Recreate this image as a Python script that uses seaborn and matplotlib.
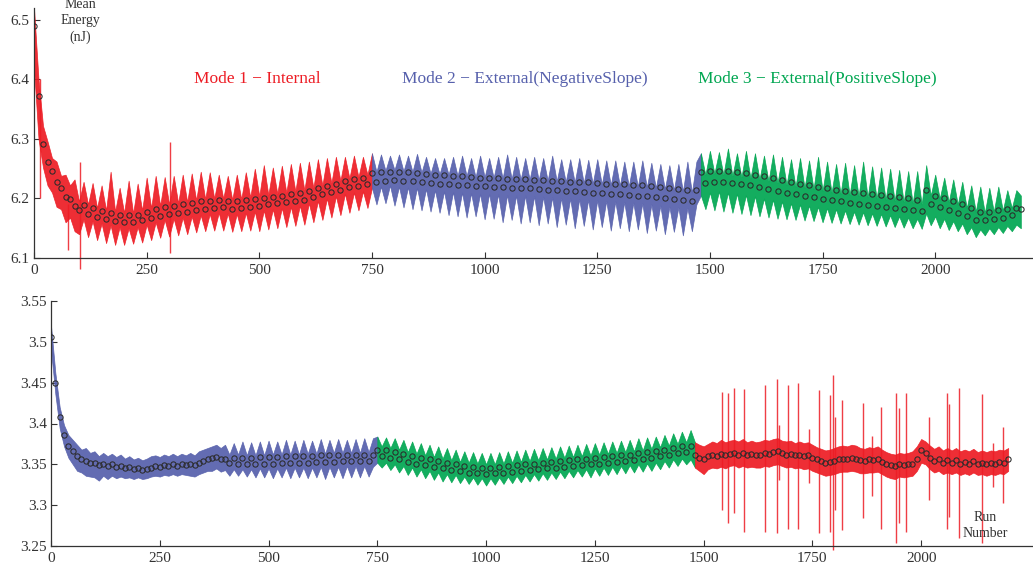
import numpy as np
import matplotlib
matplotlib.use("Agg")
import matplotlib.pyplot as plt
from matplotlib.ticker import FormatStrFormatter
import seaborn as sns

# ---------------------------------------------------------------- data
RUN_STEP = 10

# upper panel: mean energy per run (sampled every RUN_STEP runs) and its spread
top_mean = [
    6.490, 6.372, 6.292, 6.262, 6.247, 6.228, 6.218, 6.203, 6.199, 6.188,
    6.180, 6.189, 6.174, 6.184, 6.169, 6.179, 6.165, 6.176, 6.162, 6.173,
    6.160, 6.172, 6.160, 6.173, 6.163, 6.178, 6.167, 6.182, 6.171, 6.186,
    6.174, 6.188, 6.176, 6.190, 6.178, 6.192, 6.181, 6.195, 6.183, 6.196,
    6.184, 6.197, 6.185, 6.196, 6.183, 6.195, 6.184, 6.197, 6.186, 6.199,
    6.188, 6.201, 6.190, 6.203, 6.192, 6.205, 6.194, 6.207, 6.196, 6.209,
    6.198, 6.213, 6.203, 6.217, 6.207, 6.221, 6.211, 6.225, 6.215, 6.229,
    6.219, 6.232, 6.221, 6.234, 6.224, 6.242, 6.228, 6.244, 6.230, 6.245,
    6.231, 6.245, 6.230, 6.244, 6.229, 6.243, 6.228, 6.241, 6.226, 6.240,
    6.225, 6.239, 6.224, 6.238, 6.223, 6.237, 6.222, 6.236, 6.221, 6.235,
    6.221, 6.234, 6.220, 6.234, 6.219, 6.233, 6.218, 6.232, 6.218, 6.232,
    6.217, 6.231, 6.216, 6.231, 6.215, 6.230, 6.214, 6.229, 6.213, 6.228,
    6.212, 6.228, 6.211, 6.227, 6.210, 6.226, 6.209, 6.225, 6.208, 6.225,
    6.207, 6.224, 6.206, 6.223, 6.205, 6.222, 6.204, 6.221, 6.203, 6.219,
    6.201, 6.217, 6.199, 6.216, 6.197, 6.215, 6.196, 6.214, 6.244, 6.226,
    6.246, 6.228, 6.247, 6.228, 6.246, 6.226, 6.244, 6.224, 6.242, 6.222,
    6.240, 6.219, 6.237, 6.216, 6.234, 6.213, 6.231, 6.210, 6.228, 6.207,
    6.225, 6.204, 6.222, 6.202, 6.220, 6.199, 6.217, 6.197, 6.215, 6.195,
    6.213, 6.193, 6.211, 6.191, 6.210, 6.189, 6.208, 6.187, 6.206, 6.186,
    6.204, 6.184, 6.202, 6.182, 6.200, 6.180, 6.198, 6.179, 6.214, 6.190,
    6.205, 6.186, 6.200, 6.180, 6.195, 6.176, 6.190, 6.170, 6.184, 6.164,
    6.178, 6.164, 6.178, 6.166, 6.180, 6.168, 6.182, 6.172, 6.184, 6.182,
]
top_high = [
    6.520, 6.400, 6.322, 6.296, 6.268, 6.262, 6.238, 6.240, 6.222, 6.232,
    6.195, 6.228, 6.190, 6.226, 6.184, 6.222, 6.180, 6.245, 6.178, 6.218,
    6.176, 6.230, 6.175, 6.225, 6.180, 6.235, 6.184, 6.238, 6.188, 6.236,
    6.190, 6.238, 6.192, 6.240, 6.194, 6.242, 6.197, 6.245, 6.199, 6.244,
    6.200, 6.240, 6.200, 6.238, 6.198, 6.240, 6.199, 6.244, 6.202, 6.250,
    6.204, 6.256, 6.206, 6.252, 6.208, 6.255, 6.210, 6.258, 6.212, 6.260,
    6.214, 6.262, 6.218, 6.266, 6.222, 6.268, 6.226, 6.270, 6.230, 6.270,
    6.234, 6.272, 6.236, 6.270, 6.240, 6.276, 6.245, 6.274, 6.247, 6.272,
    6.248, 6.274, 6.246, 6.272, 6.245, 6.275, 6.244, 6.270, 6.242, 6.268,
    6.241, 6.268, 6.240, 6.270, 6.238, 6.272, 6.238, 6.268, 6.236, 6.272,
    6.236, 6.268, 6.235, 6.270, 6.234, 6.274, 6.233, 6.270, 6.232, 6.268,
    6.232, 6.270, 6.231, 6.268, 6.230, 6.272, 6.229, 6.266, 6.228, 6.266,
    6.227, 6.268, 6.226, 6.265, 6.225, 6.266, 6.224, 6.264, 6.223, 6.264,
    6.222, 6.262, 6.221, 6.262, 6.220, 6.264, 6.219, 6.260, 6.218, 6.258,
    6.216, 6.256, 6.214, 6.258, 6.212, 6.262, 6.210, 6.262, 6.276, 6.240,
    6.280, 6.242, 6.278, 6.240, 6.284, 6.238, 6.276, 6.236, 6.280, 6.234,
    6.276, 6.232, 6.272, 6.229, 6.274, 6.226, 6.270, 6.223, 6.266, 6.220,
    6.268, 6.218, 6.264, 6.216, 6.270, 6.213, 6.262, 6.210, 6.258, 6.208,
    6.260, 6.206, 6.256, 6.204, 6.262, 6.202, 6.254, 6.200, 6.252, 6.198,
    6.250, 6.196, 6.248, 6.194, 6.246, 6.192, 6.246, 6.190, 6.256, 6.205,
    6.240, 6.200, 6.235, 6.194, 6.232, 6.190, 6.228, 6.184, 6.222, 6.178,
    6.220, 6.176, 6.218, 6.178, 6.220, 6.180, 6.214, 6.184, 6.214, 6.205,
]
top_low = [
    6.420, 6.300, 6.252, 6.222, 6.210, 6.186, 6.182, 6.160, 6.168, 6.145,
    6.140, 6.165, 6.135, 6.162, 6.130, 6.158, 6.125, 6.155, 6.122, 6.152,
    6.122, 6.150, 6.124, 6.152, 6.126, 6.156, 6.130, 6.160, 6.134, 6.164,
    6.136, 6.166, 6.138, 6.168, 6.140, 6.170, 6.143, 6.172, 6.145, 6.174,
    6.146, 6.176, 6.146, 6.175, 6.144, 6.174, 6.145, 6.176, 6.146, 6.178,
    6.145, 6.180, 6.148, 6.182, 6.150, 6.184, 6.152, 6.186, 6.154, 6.188,
    6.156, 6.192, 6.160, 6.196, 6.164, 6.200, 6.168, 6.204, 6.172, 6.208,
    6.176, 6.210, 6.180, 6.212, 6.184, 6.218, 6.190, 6.220, 6.192, 6.222,
    6.188, 6.220, 6.185, 6.219, 6.182, 6.218, 6.180, 6.216, 6.178, 6.214,
    6.176, 6.212, 6.172, 6.211, 6.170, 6.210, 6.168, 6.209, 6.170, 6.208,
    6.165, 6.208, 6.166, 6.207, 6.160, 6.206, 6.164, 6.205, 6.158, 6.205,
    6.160, 6.204, 6.155, 6.203, 6.158, 6.202, 6.152, 6.201, 6.156, 6.200,
    6.150, 6.199, 6.154, 6.198, 6.148, 6.197, 6.152, 6.196, 6.146, 6.195,
    6.150, 6.194, 6.145, 6.193, 6.148, 6.192, 6.142, 6.190, 6.146, 6.188,
    6.140, 6.186, 6.144, 6.185, 6.138, 6.184, 6.145, 6.190, 6.205, 6.182,
    6.210, 6.180, 6.212, 6.178, 6.210, 6.176, 6.208, 6.174, 6.206, 6.172,
    6.204, 6.170, 6.200, 6.168, 6.198, 6.166, 6.195, 6.165, 6.192, 6.164,
    6.190, 6.163, 6.188, 6.162, 6.186, 6.160, 6.184, 6.159, 6.182, 6.158,
    6.180, 6.157, 6.178, 6.156, 6.177, 6.155, 6.175, 6.154, 6.174, 6.153,
    6.172, 6.152, 6.170, 6.151, 6.168, 6.150, 6.166, 6.149, 6.175, 6.155,
    6.170, 6.150, 6.166, 6.147, 6.162, 6.145, 6.158, 6.140, 6.152, 6.135,
    6.148, 6.138, 6.150, 6.140, 6.152, 6.142, 6.154, 6.145, 6.156, 6.150,
]
# single-run outliers in the upper panel: run, low, high
top_spike_runs = [13, 76, 102, 302]
top_spike_low = [6.200, 6.113, 6.082, 6.108]
top_spike_high = [6.400, 6.190, 6.262, 6.295]

# lower panel
bot_mean = [
    3.506, 3.450, 3.408, 3.386, 3.373, 3.366, 3.360, 3.357, 3.354, 3.352,
    3.352, 3.349, 3.351, 3.348, 3.350, 3.347, 3.348, 3.345, 3.347, 3.344,
    3.345, 3.343, 3.344, 3.346, 3.348, 3.347, 3.349, 3.348, 3.350, 3.348,
    3.350, 3.349, 3.351, 3.349, 3.352, 3.354, 3.356, 3.358, 3.359, 3.356,
    3.357, 3.352, 3.358, 3.351, 3.358, 3.351, 3.358, 3.351, 3.359, 3.351,
    3.359, 3.351, 3.359, 3.352, 3.360, 3.352, 3.360, 3.352, 3.360, 3.352,
    3.360, 3.353, 3.361, 3.353, 3.361, 3.353, 3.361, 3.354, 3.362, 3.354,
    3.362, 3.354, 3.362, 3.354, 3.362, 3.368, 3.360, 3.367, 3.358, 3.365,
    3.356, 3.363, 3.353, 3.360, 3.351, 3.358, 3.349, 3.356, 3.347, 3.354,
    3.345, 3.352, 3.343, 3.350, 3.342, 3.348, 3.340, 3.347, 3.339, 3.346,
    3.338, 3.346, 3.339, 3.347, 3.340, 3.348, 3.341, 3.349, 3.342, 3.350,
    3.343, 3.351, 3.344, 3.352, 3.345, 3.353, 3.346, 3.354, 3.347, 3.355,
    3.348, 3.356, 3.349, 3.357, 3.350, 3.358, 3.351, 3.359, 3.352, 3.360,
    3.353, 3.361, 3.354, 3.362, 3.355, 3.364, 3.356, 3.365, 3.358, 3.366,
    3.360, 3.368, 3.362, 3.370, 3.364, 3.372, 3.365, 3.372, 3.362, 3.358,
    3.357, 3.360, 3.362, 3.360, 3.363, 3.361, 3.363, 3.364, 3.362, 3.364,
    3.362, 3.363, 3.361, 3.362, 3.364, 3.363, 3.365, 3.366, 3.364, 3.362,
    3.363, 3.361, 3.362, 3.360, 3.361, 3.358, 3.356, 3.354, 3.352, 3.353,
    3.354, 3.356, 3.357, 3.356, 3.358, 3.357, 3.355, 3.354, 3.356, 3.355,
    3.356, 3.353, 3.351, 3.349, 3.348, 3.350, 3.349, 3.350, 3.351, 3.356,
    3.367, 3.364, 3.358, 3.354, 3.357, 3.352, 3.355, 3.352, 3.355, 3.351,
    3.353, 3.351, 3.354, 3.351, 3.352, 3.350, 3.352, 3.351, 3.353, 3.352,
    3.356,
]
bot_high = [
    3.520, 3.462, 3.420, 3.398, 3.386, 3.380, 3.374, 3.368, 3.370, 3.364,
    3.366, 3.360, 3.364, 3.360, 3.363, 3.359, 3.362, 3.357, 3.360, 3.356,
    3.358, 3.355, 3.357, 3.360, 3.361, 3.359, 3.362, 3.360, 3.363, 3.360,
    3.363, 3.361, 3.364, 3.361, 3.366, 3.368, 3.370, 3.372, 3.374, 3.370,
    3.374, 3.362, 3.376, 3.362, 3.378, 3.361, 3.377, 3.361, 3.378, 3.361,
    3.379, 3.362, 3.378, 3.362, 3.380, 3.362, 3.379, 3.362, 3.380, 3.363,
    3.379, 3.363, 3.381, 3.363, 3.380, 3.364, 3.381, 3.364, 3.380, 3.364,
    3.381, 3.364, 3.382, 3.365, 3.382, 3.384, 3.372, 3.383, 3.370, 3.382,
    3.368, 3.380, 3.365, 3.378, 3.363, 3.376, 3.361, 3.374, 3.359, 3.372,
    3.357, 3.370, 3.355, 3.368, 3.353, 3.366, 3.352, 3.365, 3.351, 3.364,
    3.350, 3.364, 3.350, 3.365, 3.351, 3.366, 3.352, 3.367, 3.353, 3.368,
    3.354, 3.369, 3.355, 3.370, 3.356, 3.371, 3.357, 3.372, 3.358, 3.373,
    3.359, 3.374, 3.360, 3.375, 3.361, 3.376, 3.362, 3.377, 3.363, 3.378,
    3.364, 3.379, 3.365, 3.380, 3.366, 3.382, 3.367, 3.383, 3.369, 3.384,
    3.371, 3.386, 3.373, 3.388, 3.375, 3.390, 3.377, 3.392, 3.377, 3.374,
    3.372, 3.375, 3.378, 3.376, 3.380, 3.377, 3.379, 3.380, 3.378, 3.381,
    3.377, 3.379, 3.377, 3.378, 3.380, 3.379, 3.381, 3.382, 3.379, 3.378,
    3.379, 3.376, 3.378, 3.376, 3.377, 3.374, 3.371, 3.369, 3.367, 3.368,
    3.370, 3.372, 3.373, 3.372, 3.374, 3.373, 3.370, 3.369, 3.371, 3.370,
    3.372, 3.368, 3.365, 3.363, 3.362, 3.364, 3.363, 3.364, 3.366, 3.372,
    3.381, 3.378, 3.373, 3.369, 3.372, 3.367, 3.370, 3.367, 3.370, 3.366,
    3.368, 3.366, 3.369, 3.365, 3.367, 3.365, 3.367, 3.366, 3.368, 3.367,
    3.370,
]
bot_low = [
    3.490, 3.436, 3.394, 3.372, 3.358, 3.350, 3.342, 3.340, 3.336, 3.335,
    3.334, 3.330, 3.336, 3.332, 3.336, 3.333, 3.335, 3.333, 3.334, 3.332,
    3.334, 3.332, 3.333, 3.335, 3.336, 3.335, 3.337, 3.336, 3.338, 3.336,
    3.338, 3.337, 3.336, 3.335, 3.338, 3.340, 3.342, 3.342, 3.345, 3.341,
    3.343, 3.336, 3.344, 3.336, 3.344, 3.335, 3.344, 3.334, 3.345, 3.334,
    3.345, 3.333, 3.345, 3.334, 3.346, 3.333, 3.346, 3.334, 3.346, 3.333,
    3.346, 3.334, 3.347, 3.332, 3.347, 3.334, 3.347, 3.333, 3.348, 3.334,
    3.348, 3.334, 3.348, 3.335, 3.347, 3.352, 3.346, 3.352, 3.343, 3.350,
    3.340, 3.348, 3.337, 3.346, 3.335, 3.344, 3.333, 3.342, 3.331, 3.340,
    3.329, 3.338, 3.328, 3.337, 3.327, 3.335, 3.326, 3.334, 3.325, 3.333,
    3.324, 3.333, 3.325, 3.334, 3.326, 3.335, 3.327, 3.336, 3.328, 3.337,
    3.329, 3.338, 3.330, 3.339, 3.331, 3.340, 3.332, 3.341, 3.333, 3.342,
    3.334, 3.343, 3.335, 3.344, 3.334, 3.345, 3.336, 3.346, 3.337, 3.347,
    3.338, 3.348, 3.339, 3.349, 3.340, 3.350, 3.341, 3.351, 3.342, 3.352,
    3.344, 3.354, 3.346, 3.356, 3.348, 3.357, 3.350, 3.356, 3.346, 3.342,
    3.338, 3.344, 3.346, 3.345, 3.347, 3.345, 3.348, 3.349, 3.346, 3.348,
    3.346, 3.347, 3.346, 3.346, 3.348, 3.347, 3.349, 3.350, 3.348, 3.346,
    3.347, 3.345, 3.346, 3.344, 3.345, 3.342, 3.340, 3.338, 3.336, 3.337,
    3.338, 3.340, 3.341, 3.341, 3.342, 3.341, 3.339, 3.339, 3.340, 3.340,
    3.341, 3.338, 3.335, 3.333, 3.332, 3.335, 3.334, 3.335, 3.336, 3.342,
    3.352, 3.350, 3.344, 3.340, 3.342, 3.338, 3.340, 3.338, 3.340, 3.337,
    3.339, 3.337, 3.340, 3.337, 3.338, 3.336, 3.338, 3.337, 3.339, 3.338,
    3.342,
]
# single-run outliers in the lower panel
bot_spike_runs = [1542, 1557, 1569, 1592, 1642, 1668, 1674, 1693, 1717, 1743,
                  1766, 1791, 1798, 1802, 1818, 1867, 1887, 1907, 1941, 1950,
                  1966, 2017, 2059, 2065, 2088, 2139, 2165, 2189]
bot_spike_high = [3.439, 3.437, 3.443, 3.442, 3.447, 3.454, 3.398, 3.447, 3.450, 3.393,
                  3.441, 3.435, 3.459, 3.408, 3.429, 3.425, 3.385, 3.420, 3.437, 3.419,
                  3.437, 3.408, 3.437, 3.424, 3.443, 3.436, 3.376, 3.396]
bot_spike_low = [3.294, 3.278, 3.290, 3.267, 3.267, 3.266, 3.331, 3.271, 3.271, 3.327,
                 3.266, 3.267, 3.245, 3.294, 3.270, 3.284, 3.311, 3.271, 3.254, 3.278,
                 3.267, 3.306, 3.271, 3.286, 3.260, 3.254, 3.322, 3.303]

# operating modes: (first run, last run, mode)
top_modes = [(0, 750, 1), (750, 1480, 2), (1480, 2190, 3)]
bot_modes = [(0, 750, 2), (750, 1480, 3), (1480, 2200, 1)]

mode_labels = {1: "Mode 1 \u2212 Internal",
               2: "Mode 2 \u2212 External(NegativeSlope)",
               3: "Mode 3 \u2212 External(PositiveSlope)"}
mode_colors = {1: "#ED1C24", 2: "#5660AC", 3: "#00A651"}

x_ticks = [0, 250, 500, 750, 1000, 1250, 1500, 1750, 2000]
top_yticks = [6.1, 6.2, 6.3, 6.4, 6.5]
bot_yticks = [3.25, 3.3, 3.35, 3.4, 3.45, 3.5, 3.55]

# ---------------------------------------------------------------- style
sns.set_style("ticks")
plt.rcParams["font.family"] = ["Liberation Serif", "DejaVu Serif"]
plt.rcParams["axes.unicode_minus"] = True

W, H = 1033, 567
fig = plt.figure(figsize=(W / 100, H / 100), dpi=100)
fig.patch.set_facecolor("white")

ax_top = fig.add_axes([34 / W, 1 - 258 / H, (W - 34) / W, (258 - 8) / H])
ax_bot = fig.add_axes([51 / W, 1 - 546 / H, (W - 51) / W, (546 - 301) / H])


def draw_panel(ax, mean, low, high, modes, sp_runs, sp_low, sp_high):
    mean = np.asarray(mean)
    low = np.asarray(low)
    high = np.asarray(high)
    runs = np.arange(len(mean)) * RUN_STEP
    for start, stop, mode in modes:
        m = (runs >= start) & (runs <= stop)
        c = mode_colors[mode]
        ax.fill_between(runs[m], low[m], high[m], color=c, lw=0.5,
                        edgecolor=c, alpha=0.92, zorder=2)
    # outlier runs in the colour of the mode they belong to
    for r, lo, hi in zip(sp_runs, sp_low, sp_high):
        mode = [md for s, e, md in modes if s <= r <= e][0]
        ax.vlines(r, lo, hi, color=mode_colors[mode], lw=1.0, alpha=0.85,
                  zorder=2, clip_on=False)
    sns.lineplot(x=runs, y=mean, ax=ax, linestyle="", marker="o",
                 markersize=3.8, markerfacecolor="none",
                 markeredgecolor="#2b2b2b", markeredgewidth=0.75,
                 color="#2b2b2b", errorbar=None, zorder=3)


draw_panel(ax_top, top_mean, top_low, top_high, top_modes,
           top_spike_runs, top_spike_low, top_spike_high)
draw_panel(ax_bot, bot_mean, bot_low, bot_high, bot_modes,
           bot_spike_runs, bot_spike_low, bot_spike_high)

ax_top.set_xlim(0, 2217)
ax_top.set_ylim(6.1, 6.52)
ax_top.set_yticks(top_yticks)
ax_bot.set_xlim(0, 2257)
ax_bot.set_ylim(3.25, 3.55)
ax_bot.set_yticks(bot_yticks)

for ax in (ax_top, ax_bot):
    ax.set_xticks(x_ticks)
    ax.yaxis.set_major_formatter(FormatStrFormatter("%g"))
    ax.set_xlabel("")
    ax.set_ylabel("")
    ax.set_facecolor("none")
    for side in ("top", "right"):
        ax.spines[side].set_visible(False)
    for side in ("left", "bottom"):
        ax.spines[side].set_color("#333333")
        ax.spines[side].set_linewidth(0.9)
    ax.tick_params(direction="in", length=4, width=0.8, colors="#333333",
                   labelsize=11, labelcolor="#333333")
    ax.tick_params(axis="x", pad=4)
    ax.tick_params(axis="y", pad=3)

# axis captions
fig.text(80 / W, 1 - 21 / H, "Mean\nEnergy\n(nJ)", ha="center", va="center",
         multialignment="center", fontsize=10, linespacing=1.35, color="#333333")
fig.text(985 / W, 1 - 525.5 / H, "Run\nNumber", ha="center", va="center",
         multialignment="center", fontsize=10, linespacing=1.3, color="#333333")

# mode legend across the upper panel
for xc, mode in [(257, 1), (525, 2), (817, 3)]:
    fig.text(xc / W, 1 - 79 / H, mode_labels[mode], ha="center", va="center",
             fontsize=12.5, color=mode_colors[mode])

fig.savefig("out.png", dpi=100, facecolor="white")
